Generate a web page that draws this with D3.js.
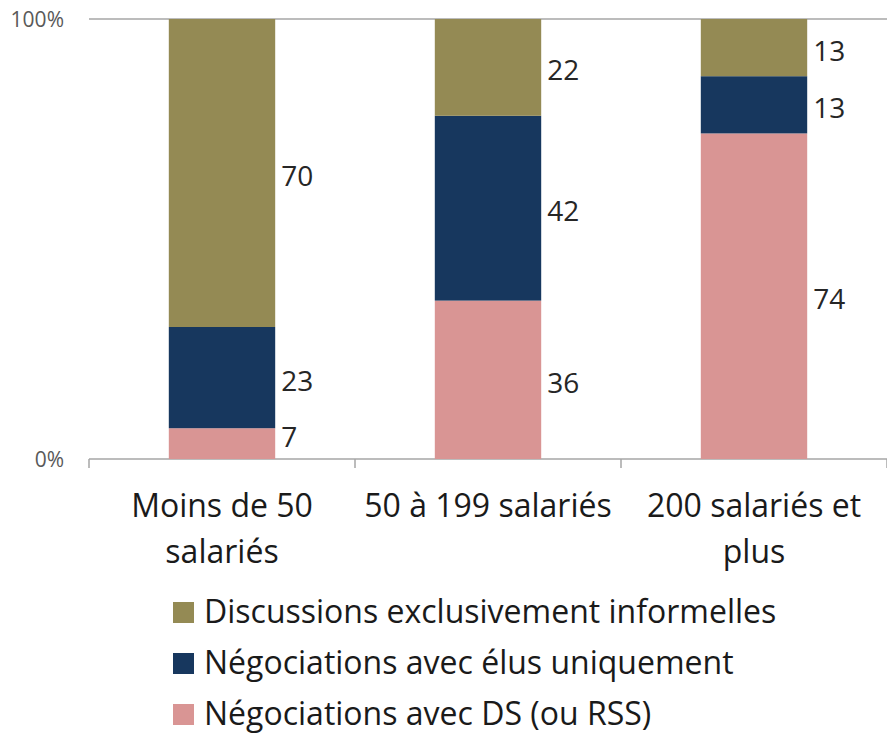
<!DOCTYPE html>
<html>
<head>
<meta charset="utf-8">
<script src="https://cdn.jsdelivr.net/npm/d3@7"></script>
<style>
  body { margin: 0; background: #fff; }
  text { font-family: "Open Sans", "Noto Sans", sans-serif; }
</style>
</head>
<body>
<div id="chart-area"></div>
<script>
var categories = [["Moins de 50", "salariés"], ["50 à 199 salariés"], ["200 salariés et", "plus"]];
var series = ["Négociations avec DS (ou RSS)", "Négociations avec élus uniquement", "Discussions exclusivement informelles"];
var ds = [7, 36, 74];
var elus = [23, 42, 13];
var informelles = [70, 22, 13];
var colors = ["#D99594", "#17375E", "#948A54"];
var yTicks = [0, 1];

var width = 887, height = 734;

var svg = d3.select("#chart-area").append("svg")
    .attr("width", width)
    .attr("height", height);

var x = d3.scaleBand().domain(d3.range(categories.length))
    .range([89, 887]).paddingInner(0.6).paddingOuter(0.3);
var y = d3.scaleLinear().domain([0, 1]).range([459, 19]);

// top gridline
svg.append("line")
    .attr("x1", 89).attr("x2", 887)
    .attr("y1", y(1)).attr("y2", y(1))
    .attr("stroke", "#a6a6a6").attr("stroke-width", 1.5);

// x axis
var xAxisGroup = svg.append("g").attr("transform", "translate(0," + y(0) + ")");
xAxisGroup.append("line").attr("x1", 89).attr("x2", 887)
    .attr("stroke", "#a6a6a6").attr("stroke-width", 1.5);
xAxisGroup.selectAll(".tick").data(d3.range(categories.length + 1)).enter()
    .append("line")
    .attr("x1", (d) => 89 + d * x.step()).attr("x2", (d) => 89 + d * x.step())
    .attr("y1", 0).attr("y2", 9)
    .attr("stroke", "#a6a6a6").attr("stroke-width", 1.5);

// y tick labels
svg.selectAll(".ylab").data(yTicks).enter().append("text")
    .attr("x", 64)
    .attr("y", (d) => y(d) + 8)
    .attr("text-anchor", "end")
    .style("font-size", "21px")
    .style("fill", "#595959")
    .text((d) => d3.format(".0%")(d));

// stack
var rows = categories.map((c, i) => ({ i: i, ds: ds[i] / 100, elus: elus[i] / 100, inf: informelles[i] / 100 }));
var stack = d3.stack().keys(["ds", "elus", "inf"]);
var layers = stack(rows);

var layerG = svg.selectAll(".layer").data(layers).enter().append("g")
    .attr("fill", (d, i) => colors[i]);

layerG.selectAll("rect").data((d) => d).enter().append("rect")
    .attr("x", (d) => x(d.data.i))
    .attr("width", x.bandwidth())
    .attr("y", (d) => y(d[1]))
    .attr("height", (d) => y(d[0]) - y(d[1]));

// value labels, right of each segment
layerG.selectAll("text").data((d) => d).enter().append("text")
    .attr("x", (d) => x(d.data.i) + x.bandwidth() + 6)
    .attr("y", (d) => Math.min(y((d[0] + d[1]) / 2) + 13, y(0) - 12))
    .attr("fill", "#262626")
    .style("font-size", "28px")
    .text((d) => Math.round((d[1] - d[0]) * 100));

// category labels
var catG = svg.selectAll(".cat").data(categories).enter().append("text")
    .attr("text-anchor", "middle")
    .attr("x", (d, i) => x(i) + x.bandwidth() / 2)
    .attr("y", 517)
    .style("font-size", "32px")
    .attr("fill", "#1a1a1a");
catG.selectAll("tspan").data((d) => d).enter().append("tspan")
    .attr("x", function () { return d3.select(this.parentNode).attr("x"); })
    .attr("dy", (d, i) => i === 0 ? 0 : 46)
    .text((d) => d);

// legend
var legendOrder = [2, 1, 0];
var legend = svg.selectAll(".legend").data(legendOrder).enter().append("g")
    .attr("transform", (d, i) => "translate(173," + (612 + i * 51) + ")");
legend.append("rect")
    .attr("x", 0).attr("y", -10)
    .attr("width", 21).attr("height", 21)
    .attr("fill", (d) => colors[d]);
legend.append("text")
    .attr("x", 31).attr("y", 11)
    .style("font-size", "32px")
    .attr("fill", "#1a1a1a")
    .text((d) => series[d]);
</script>
</body>
</html>
